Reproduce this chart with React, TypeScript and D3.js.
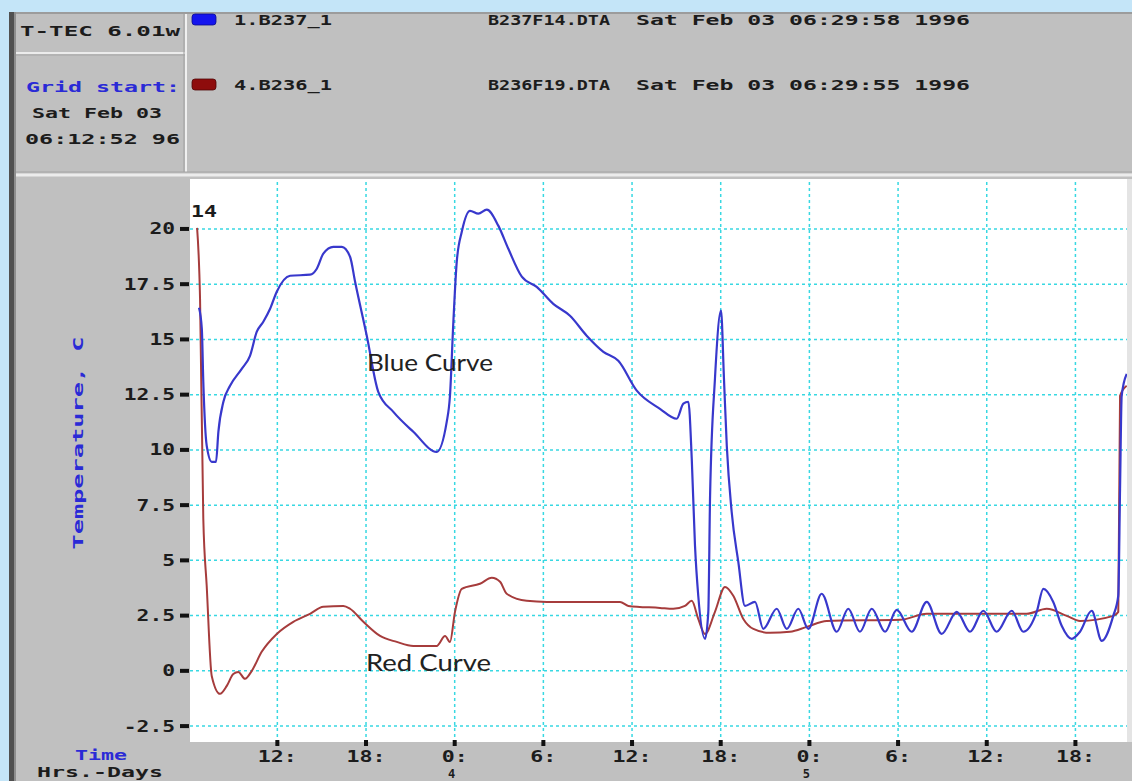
import React from 'react';
import * as d3 from 'd3';

// Hours counted from Sat Feb 03 00:00, temperatures in C
const blueHours = [
  6.70, 6.89, 6.99, 7.22, 7.56, 7.85, 8.01, 8.35, 8.80, 9.59,
  10.15, 10.61, 11.05, 11.51, 11.96, 12.86, 14.21, 14.67, 15.11, 15.79,
  16.36, 16.92, 17.26, 18.05, 18.83, 19.85, 21.20, 22.78, 23.46, 23.68,
  23.91, 24.14, 24.48, 25.04, 25.60, 26.17, 26.95, 27.63, 28.54, 29.55,
  30.67, 31.80, 32.93, 34.06, 35.07, 36.32, 37.89, 39.02, 39.47, 39.81,
  40.04, 40.26, 40.48, 40.94, 41.16, 41.28, 41.61, 42.02, 42.22, 42.41,
  42.74, 43.19, 43.64, 44.32, 44.88, 45.79, 46.47, 47.25, 47.93, 48.83,
  49.85, 50.63, 51.42, 52.22, 53.12, 53.91, 54.92, 55.94, 56.95, 57.97,
  58.87, 59.77, 60.67, 61.69, 62.47, 63.38, 63.83, 64.50, 65.07, 65.75,
  66.31, 67.10, 67.78, 68.56, 68.90, 69.02, 69.13, 69.47,
];
const blueTemps = [
  16.43, 15.48, 13.08, 10.19, 9.46, 9.46, 10.82, 12.18, 12.90, 13.67,
  14.26, 15.35, 15.80, 16.39, 17.16, 17.88, 17.93, 18.20, 18.88, 19.19,
  19.19, 18.74, 17.61, 15.17, 12.63, 11.72, 10.82, 9.91, 11.27, 12.45,
  15.80, 18.52, 19.87, 20.82, 20.69, 20.87, 20.15, 19.10, 17.84, 17.38,
  16.61, 16.07, 15.17, 14.44, 14.03, 12.68, 11.86, 11.41, 12.09, 12.18,
  9.60, 5.66, 3.40, 1.45, 2.67, 7.92, 13.22, 16.30, 13.22, 10.19,
  7.20, 4.93, 2.94, 3.12, 1.90, 2.81, 1.90, 2.81, 1.90, 3.49,
  1.77, 2.81, 1.77, 2.81, 1.77, 2.76, 1.77, 3.12, 1.67, 2.67,
  1.77, 2.72, 1.77, 2.72, 1.77, 2.67, 3.71, 3.12, 2.04, 1.45,
  1.77, 2.72, 1.36, 2.49, 3.40, 8.24, 12.45, 13.44,
];
const redHours = [
  6.57, 6.77, 6.99, 7.22, 7.56, 8.12, 8.58, 9.02, 9.36, 9.81,
  10.27, 10.94, 11.96, 13.08, 14.21, 15.11, 16.47, 16.92, 17.82, 18.95,
  20.08, 21.20, 22.78, 23.35, 23.68, 24.02, 24.48, 25.71, 26.51, 27.07,
  27.52, 28.87, 30.23, 35.19, 35.75, 37.89, 38.79, 39.58, 40.04, 40.48,
  40.94, 41.61, 42.29, 42.85, 43.53, 44.21, 45.34, 46.69, 47.82, 49.17,
  54.13, 55.94, 62.70, 64.06, 65.41, 66.31, 68.56, 68.90, 69.02, 69.47,
];
const redTemps = [
  20.05, 16.84, 6.88, 3.85, -0.23, -1.04, -0.68, -0.14, -0.05, -0.36,
  0.00, 0.86, 1.67, 2.22, 2.58, 2.90, 2.94, 2.81, 2.22, 1.58,
  1.31, 1.13, 1.13, 1.58, 1.31, 2.67, 3.71, 3.94, 4.21, 4.03,
  3.49, 3.17, 3.12, 3.12, 2.94, 2.85, 2.81, 2.94, 3.17, 2.35,
  1.67, 2.67, 3.80, 3.40, 2.35, 1.90, 1.72, 1.77, 1.99, 2.26,
  2.31, 2.58, 2.58, 2.81, 2.49, 2.26, 2.49, 2.67, 12.45, 12.90,
];

const tempTicks = [-2.5, 0, 2.5, 5, 7.5, 10, 12.5, 15, 17.5, 20];
const tempTickLabels = ['-2.5', '0', '2.5', '5', '7.5', '10', '12.5', '15', '17.5', '20'];
const hourTicks = [12, 18, 24, 30, 36, 42, 48, 54, 60, 66];
const hourTickLabels = ['12:', '18:', '0:', '6:', '12:', '18:', '0:', '6:', '12:', '18:'];
const dayHours = [24, 48];
const dayLabels = ['4', '5'];
const hourDomain = [6.09, 69.49];
const tempDomain = [-3.22, 22.26];

const W = 1132;
const H = 781;
const plot = { left: 190, right: 1127, top: 179, bottom: 742 };
const MONO = '"DejaVu Sans Mono", "Liberation Mono", monospace';
const INK = '#1c1c1c';
const LABEL_BLUE = '#2a2ad6';

export default function App() {
  const x = d3.scaleLinear().domain(hourDomain).range([plot.left, plot.right]);
  const y = d3.scaleLinear().domain(tempDomain).range([plot.bottom, plot.top]);

  const bluePath = d3.line<number>()
    .x((_, i) => x(blueHours[i]))
    .y(d => y(d))
    .curve(d3.curveMonotoneX)(blueTemps) || '';
  const redPath = d3.line<number>()
    .x((_, i) => x(redHours[i]))
    .y(d => y(d))
    .curve(d3.curveMonotoneX)(redTemps) || '';

  // bitmap-like wide bold text, stretched to the measured width
  const wideText = (t: string, tx: number, ty: number, len: number, fill = INK, size = 14) => (
    <text x={tx} y={ty} textLength={len} lengthAdjust="spacingAndGlyphs"
      fontFamily={MONO} fontWeight="bold" fontSize={size} fill={fill}>{t}</text>
  );

  return (
    <svg width={W} height={H} style={{ position: 'absolute', left: 0, top: 0 }}>
      <defs>
        <clipPath id="plot-clip">
          <rect x={plot.left} y={plot.top} width={plot.right - plot.left} height={plot.bottom - plot.top} />
        </clipPath>
      </defs>

      {/* window frame */}
      <rect x={0} y={0} width={W} height={H} fill="#c4e5f8" />
      <rect x={9} y={12} width={W - 9} height={H - 12} fill="#c0c0c0" />
      <rect x={9} y={12} width={W - 9} height={2} fill="#9c9c9c" />
      <rect x={9} y={12} width={5} height={H - 12} fill="#505050" />
      <rect x={14} y={12} width={2} height={H - 12} fill="#8e8e8e" />

      {/* header separators */}
      <line x1={16} x2={185} y1={53} y2={53} stroke="#ececec" strokeWidth={2} />
      <line x1={16} x2={185} y1={55} y2={55} stroke="#a6a6a6" strokeWidth={1} />
      <line x1={184} x2={184} y1={14} y2={172} stroke="#a0a0a0" strokeWidth={1} />
      <line x1={186} x2={186} y1={14} y2={172} stroke="#f0f0f0" strokeWidth={2} />
      <line x1={16} x2={W} y1={172} y2={172} stroke="#a4a4a4" strokeWidth={1} />
      <line x1={16} x2={W} y1={175} y2={175} stroke="#ececec" strokeWidth={3} />

      {/* header texts */}
      {wideText('T-TEC 6.01w', 20, 36, 160)}
      {wideText('Grid start:', 26, 92, 154, LABEL_BLUE)}
      {wideText('Sat Feb 03', 32, 118, 130)}
      {wideText('06:12:52 96', 25, 144, 155)}

      <rect x={192} y={14} width={24} height={11} rx={3} fill="#1414ee" stroke="#0a0a90" strokeWidth={0.8} />
      {wideText('1.B237_1', 234, 25, 98)}
      {wideText('B237F14.DTA', 488, 25, 122)}
      {wideText('Sat Feb 03 06:29:58 1996', 636, 25, 334)}

      <rect x={192} y={79} width={24} height={11} rx={3} fill="#8e0c0c" stroke="#500606" strokeWidth={0.8} />
      {wideText('4.B236_1', 234, 90, 98)}
      {wideText('B236F19.DTA', 488, 90, 122)}
      {wideText('Sat Feb 03 06:29:55 1996', 636, 90, 334)}

      {/* plot area */}
      <rect x={plot.left} y={plot.top} width={plot.right - plot.left} height={plot.bottom - plot.top} fill="#ffffff" />
      <rect x={plot.right} y={plot.top} width={W - plot.right} height={plot.bottom - plot.top} fill="#e4e4e4" />

      {/* grid */}
      {tempTicks.map(t => (
        <line key={`hg${t}`} x1={plot.left} x2={plot.right} y1={y(t)} y2={y(t)}
          stroke="#38d8e2" strokeWidth={1.5} strokeDasharray="3 3" />
      ))}
      {hourTicks.map((h, i) => (
        <line key={`vg${i}`} x1={x(h)} x2={x(h)} y1={plot.top + 3} y2={plot.bottom}
          stroke="#38d8e2" strokeWidth={1.5} strokeDasharray="3 3" />
      ))}

      {/* curves */}
      <g clipPath="url(#plot-clip)">
        <path d={redPath} fill="none" stroke="#a63c3c" strokeWidth={2} strokeLinejoin="round" />
        <path d={bluePath} fill="none" stroke="#3838cc" strokeWidth={2.2} strokeLinejoin="round" />
      </g>

      {/* y axis */}
      {tempTicks.map((t, i) => {
        const lab = tempTickLabels[i];
        const len = lab.length * 12.8;
        return (
          <g key={`yt${t}`}>
            <rect x={180} y={y(t) - 2} width={9} height={4} fill="#111" />
            {wideText(lab, 175 - len, y(t) + 5.5, len, INK, 15)}
          </g>
        );
      })}
      {wideText('14', 191, 217, 26, INK, 15)}
      <text transform={`translate(83, ${443}) rotate(-90)`} textAnchor="middle" textLength={213}
        lengthAdjust="spacingAndGlyphs" fontFamily={MONO} fontWeight="bold" fontSize={14} fill={LABEL_BLUE}>
        Temperature, C
      </text>

      {/* x axis */}
      {hourTicks.map((h, i) => {
        const lab = hourTickLabels[i];
        const len = lab.length * 13;
        return (
          <g key={`xt${i}`}>
            <rect x={x(h) - 2} y={740} width={4} height={6} fill="#111" />
            {wideText(lab, x(h) - 2 - len / 2 + 2, 762, len, INK, 15)}
          </g>
        );
      })}
      {dayHours.map((h, i) => (
        <text key={`day${i}`} x={x(h) - 3} y={778} textAnchor="middle" fontFamily={MONO} fontWeight="bold"
          fontSize={12} fill={INK}>{dayLabels[i]}</text>
      ))}
      {wideText('Time', 75, 760, 52, LABEL_BLUE)}
      {wideText('Hrs.-Days', 37, 777, 126)}

      {/* annotations */}
      <text x={367} y={371} textLength={126} lengthAdjust="spacingAndGlyphs" fontFamily="Lato, 'Open Sans', sans-serif"
        fontWeight={400} fontSize={23} fill="#222">Blue Curve</text>
      <text x={366} y={671} textLength={125} lengthAdjust="spacingAndGlyphs" fontFamily="Lato, 'Open Sans', sans-serif"
        fontWeight={400} fontSize={23} fill="#222">Red Curve</text>
    </svg>
  );
}
